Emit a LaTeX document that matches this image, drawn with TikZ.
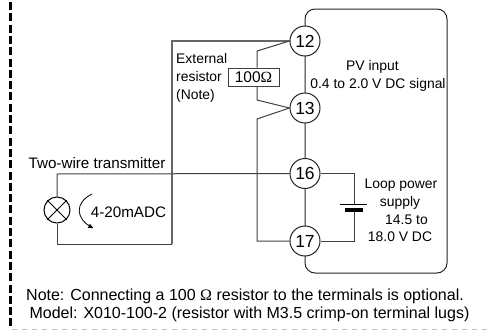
\documentclass[tikz,border=0pt]{standalone}
\usepackage{fontspec}
\usepackage{tikz}
\usetikzlibrary{arrows}
\setmainfont{Liberation Sans}
\newfontfamily\ohmfont{Liberation Serif}
\newcommand{\ohm}{{\ohmfont Ω}}

\begin{document}
\begin{tikzpicture}[x=1pt,y=-1pt,>=stealth',font=\fontsize{13.9}{18}\selectfont,
  term/.style={circle,draw=black!85,fill=white,line width=1pt,minimum size=30pt,inner sep=0pt,font=\fontsize{17.5}{17.5}\selectfont},
  wire/.style={draw=black!75,line width=1pt},
  thickwire/.style={draw=black!60,line width=1.3pt},
  label/.style={inner sep=0pt,anchor=base},
  biglabel/.style={label,font=\fontsize{15.2}{18}\selectfont},
  notelabel/.style={label,font=\fontsize{16}{18}\selectfont}]
  \useasboundingbox (0,0) rectangle (491,330);
  % frame
  \draw[line width=3pt,dash pattern=on 8pt off 3.3pt] (10,2) -- (10,330);
  \draw[black!25,line width=1pt,dash pattern=on 5pt off 5pt] (12,329.5) -- (491,329.5);
  \draw[black!85,line width=1pt,rounded corners=10pt] (305,273) rectangle (447,9);
  % terminals
  \node[term] (t12) at (305,41)  {12};
  \node[term] (t13) at (305,108) {13};
  \node[term] (t16) at (305,173.5) {16};
  \node[term] (t17) at (305,241) {17};
  \node[circle,draw=black,fill=white,line width=1pt,minimum size=26pt,inner sep=0pt] (lamp) at (57,210) {};
  \draw[black,line width=1pt] (lamp.45) -- (lamp.225) (lamp.135) -- (lamp.315);
  \node[draw=black!75,fill=white,line width=1pt,minimum width=51pt,minimum height=18pt,inner sep=0pt,font=\fontsize{15.5}{15.5}\selectfont] (res) at (253.5,77) {100\ohm};
  \coordinate (r1) at (257,51);
  \coordinate (r2) at (257,100);
  \coordinate (r3) at (257,119);
  \coordinate (b1) at (354,204);
  \coordinate (b2) at (354,210);
  \coordinate (c1) at (172,244);
  \coordinate (c2) at (57,174);
  \coordinate (a1) at (92,194);
  \coordinate (a2) at (93,228);
  % wiring
  \draw[thickwire] (t12.west) -| (c1);
  \draw[wire] (c1) -| (lamp.south);
  \draw[wire] (lamp.north) -- (c2) -- (t16.west);
  \draw[wire] (t12.west) -- (r1) -- (r1 |- res.north);
  \draw[wire] (r1 |- res.south) -- (r2) -- (t13.west);
  \draw[wire] (t13.west) -- (r3) |- (t17.west);
  \draw[wire] (t16.east) -| (b1);
  \draw[wire] (t17.east) -| (b2);
  \draw[line width=1pt,black] (340,204) -- (367,204);
  \draw[line width=3.2pt,black] (345,210) -- (363,210);
  \draw[->,line width=.8pt] (a1) .. controls (74,203) and (76,219) .. (a2);
  % labels
  \node[label,anchor=north west,align=left] (ext) at (176,53) {External\\resistor\\(Note)};
  \node[label] (pv1) at (372.5,70) {PV input};
  \node[label] (pv2) at (378,88) {0.4 to 2.0 V DC signal};
  \node[label] (loop1) at (401,188) {Loop power};
  \node[label] (loop2) at (400,206) {supply};
  \node[label] (loop3) at (406.5,224) {14.5 to};
  \node[label] (loop4) at (400,241) {18.0 V DC};
  \node[biglabel] (tx) at (97,168) {Two-wire transmitter};
  \node[biglabel] (ma) at (128.5,217) {4-20mADC};
  \node[notelabel] (note1) at (245,300) {Note: Connecting a 100 \ohm\ resistor to the terminals is optional.};
  \node[notelabel] (note2) at (249.5,318) {Model: X010-100-2 (resistor with M3.5 crimp-on terminal lugs)};
\end{tikzpicture}
\end{document}
